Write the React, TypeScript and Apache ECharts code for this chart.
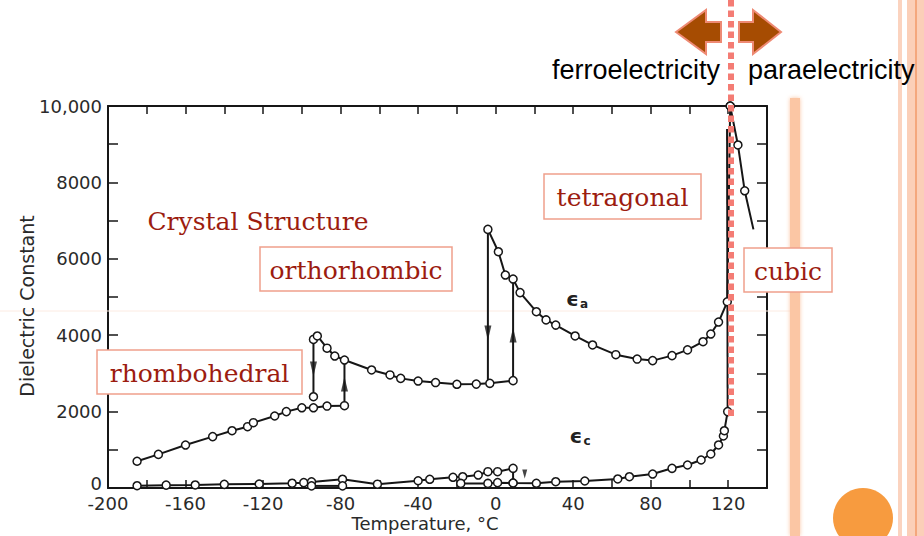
import React, { useEffect, useRef } from "react";
import * as echarts from "echarts";

// ---- data (Temperature °C, dielectric constant) ----
const rhomboLower: number[][] = [
  [-185, 700], [-174, 880], [-160, 1125], [-146, 1345], [-136, 1500], [-128, 1605],
  [-125, 1710], [-114, 1885], [-108, 2000], [-100, 2100], [-94, 2100], [-87, 2145], [-78, 2155],
];
const rhomboPoint: number[][] = [[-94, 2390]];
const orthoBranch: number[][] = [
  [-94, 3890], [-92, 3980], [-87, 3660], [-83, 3455], [-78, 3350], [-64, 3090], [-54.5, 2960],
  [-49, 2870], [-40, 2800], [-31, 2760], [-20, 2715], [-10, 2720], [-3, 2740], [9, 2810],
];
const tetraBranch: number[][] = [
  [-4, 6770], [1.4, 6185], [5, 5575], [9, 5470], [12.6, 5115], [21, 4615], [26, 4400], [31, 4265],
  [41, 3980], [50, 3745], [62, 3490], [73, 3375], [81, 3335], [91, 3465], [99, 3615], [107, 3830],
  [111, 4030], [115, 4345], [119.5, 4875], [121, 10000],
];
const cubicBranch: number[][] = [[121, 10000], [125, 8980], [128.5, 7780], [133, 6770]];
const transitions: number[][][] = [
  [[-94, 3890], [-94, 2390]],
  [[-78, 2155], [-78, 3350]],
  [[-4, 6770], [-4, 2740]],
  [[9, 2810], [9, 5470]],
];
const downArrows: number[][] = [[-94, 3115], [-4, 4060]];
const upArrows: number[][] = [[-78, 2720], [9, 4005]];
const smallArrows: number[][] = [[15, 366]];

const epsCMain: number[][] = [
  [-185, 60], [-170, 75], [-155, 80], [-140, 95], [-122, 105], [-105, 125], [-99, 140], [-95, 160],
  [-79, 230], [-61, 100], [-40, 190], [-34, 228], [-22, 280], [-17, 296], [-9, 340], [-4, 427],
  [1, 427], [9, 515], [9, 130], [21, 123], [31, 165], [46, 183], [63, 236], [69, 296], [81, 366],
  [91, 515], [99, 602], [106, 733], [111, 890], [115, 1126], [117.5, 1361], [118, 1500], [119.7, 2000],
];
const epsCRise: number[][] = [[119.7, 2000], [119.4, 9400]];
const epsCLower: number[][] = [[-95, 55], [-79, 55]];
const epsCLower2: number[][] = [[-18, 120], [-4, 120], [1, 140], [9, 130]];

const xMin = -200;
const xMax = 140;
const yMax = 10000;

const BLACK = "#161616";
const RED = "#9c1c10";
const BOX = "#f0a08c";

export default function App() {
  const ref = useRef<HTMLDivElement>(null);
  useEffect(() => {
    if (!ref.current) return;
    const chart = echarts.init(ref.current, null, { renderer: "svg" });

    const sym = {
      symbol: "circle",
      symbolSize: 8,
      showAllSymbol: true,
      itemStyle: { color: "#ffffff", borderColor: BLACK, borderWidth: 1.5 },
      lineStyle: { color: BLACK, width: 2 },
    };
    const lineSeries = (data: any[], withSymbol = true) => ({
      type: "line",
      data,
      silent: true,
      z: 3,
      ...(withSymbol ? sym : { symbol: "none", lineStyle: { color: BLACK, width: 2 } }),
    });

    const box = (text: string, x: number, y: number, w: number, h: number) => ({
      type: "group",
      z: 100,
      children: [
        { type: "rect", shape: { x, y, width: w, height: h }, style: { fill: "#ffffff", stroke: BOX, lineWidth: 1.5 }, z: 100 },
        {
          type: "text",
          z: 101,
          style: { text, x: x + w / 2, y: y + h / 2 + 1, align: "center", verticalAlign: "middle", font: "25px 'DejaVu Serif'", fill: RED },
        },
      ],
    });

    const axisLine = { show: true, onZero: false, lineStyle: { color: BLACK, width: 2 } };
    const epsRich = {
      e: { fontSize: 20, fontFamily: "DejaVu Sans", fontWeight: "bold", fill: "#222" },
      s: { fontSize: 12, fontFamily: "DejaVu Sans", fontWeight: "bold", fill: "#222", padding: [10, 0, 0, 1] },
    };

    chart.setOption({
      animation: false,
      backgroundColor: "#ffffff",
      grid: { left: 108, right: 157, top: 106, bottom: 48 },
      xAxis: [
        {
          type: "value", min: xMin, max: xMax, interval: 20,
          axisLine,
          axisTick: { show: true, inside: true, length: 8, lineStyle: { color: BLACK, width: 1.5 } },
          axisLabel: {
            margin: 6, fontSize: 18, color: "#2a2a2a", fontFamily: "DejaVu Sans",
            formatter: (v: number) => (v % 40 === 0 ? String(v) : ""),
          },
          splitLine: { show: false },
        },
        {
          type: "value", position: "top", min: xMin, max: xMax, interval: 20,
          axisLine,
          axisTick: { show: true, inside: true, length: 8, lineStyle: { color: BLACK, width: 1.5 } },
          axisLabel: { show: false },
          splitLine: { show: false },
        },
      ],
      yAxis: [
        {
          type: "value", min: 0, max: yMax, interval: 1000,
          axisLine,
          axisTick: { show: true, inside: true, length: 10, lineStyle: { color: BLACK, width: 1.5 } },
          axisLabel: {
            margin: 6, fontSize: 18, color: "#2a2a2a", fontFamily: "DejaVu Sans",
            formatter: (v: number) =>
              v === 0 ? "{z|0}" : v % 2000 === 0 ? (v === 10000 ? "10,000" : String(v)) : "",
            rich: { z: { fontSize: 18, fontFamily: "DejaVu Sans", color: "#2a2a2a", padding: [0, 0, 9, 0] } },
          },
          splitLine: { show: false },
        },
        {
          type: "value", position: "right", min: 0, max: yMax, interval: 1000,
          axisLine,
          axisTick: { show: true, inside: true, length: 10, lineStyle: { color: BLACK, width: 1.5 } },
          axisLabel: { show: false },
          splitLine: { show: false },
        },
      ],
      series: [
        lineSeries(rhomboLower),
        lineSeries(rhomboPoint),
        lineSeries(orthoBranch),
        lineSeries(tetraBranch),
        lineSeries(cubicBranch.map((p, i) => (i === cubicBranch.length - 1 ? { value: p, symbol: "none" } : p))),
        ...transitions.map((t) => lineSeries(t, false)),
        lineSeries(epsCMain),
        lineSeries(epsCRise, false),
        lineSeries(epsCLower),
        lineSeries(epsCLower2),
        {
          type: "scatter", data: downArrows, symbol: "triangle", symbolSize: [7, 15], symbolRotate: 180,
          itemStyle: { color: BLACK }, z: 4, silent: true,
        },
        {
          type: "scatter", data: upArrows, symbol: "triangle", symbolSize: [7, 15],
          itemStyle: { color: BLACK }, z: 4, silent: true,
        },
        {
          type: "scatter", data: smallArrows, symbol: "triangle", symbolSize: [5, 9], symbolRotate: 180,
          itemStyle: { color: BLACK }, z: 4, silent: true,
        },
      ],
      graphic: [
        { type: "line", silent: true, z: 1, shape: { x1: 0, y1: 311, x2: 790, y2: 311 }, style: { stroke: "#fcebe2", lineWidth: 1 } },
        { type: "rect", silent: true, z: 90, shape: { x: 790, y: 98, width: 10, height: 438 }, style: { fill: "#fbc6a4", shadowBlur: 4, shadowColor: "#fbc6a4" } },
        { type: "rect", silent: true, z: 90, shape: { x: 898, y: 0, width: 4, height: 536 }, style: { fill: "#fbd3bf" } },
        { type: "rect", silent: true, z: 90, shape: { x: 907, y: 0, width: 17, height: 536 }, style: { fill: "#fbcfb8" } },
        { type: "line", silent: true, z: 91, shape: { x1: 916, y1: 0, x2: 916, y2: 536 }, style: { stroke: "#f29a6a", lineWidth: 1.5 } },
        { type: "circle", silent: true, z: 90, shape: { cx: 863, cy: 518, r: 30 }, style: { fill: "#f79b3f" } },
        { type: "line", silent: true, z: 110, shape: { x1: 731, y1: 0, x2: 731, y2: 418 }, style: { stroke: "#f47c74", lineWidth: 6, lineDash: [6.5, 4] } },
        {
          type: "polygon", silent: true, z: 110,
          shape: { points: [[676, 32], [706, 10], [706, 22], [721, 22], [721, 42], [706, 42], [706, 54]] },
          style: { fill: "#a64c02", stroke: "#ee8a74", lineWidth: 2 },
        },
        {
          type: "polygon", silent: true, z: 110,
          shape: { points: [[739, 22], [753, 22], [753, 10], [781, 32], [753, 54], [753, 42], [739, 42]] },
          style: { fill: "#a64c02", stroke: "#ee8a74", lineWidth: 2 },
        },
        { type: "text", z: 110, style: { text: "ferroelectricity", x: 720, y: 70, align: "right", verticalAlign: "middle", font: "27px 'Liberation Sans'", fill: "#000000" } },
        { type: "text", z: 110, style: { text: "paraelectricity", x: 748, y: 70, align: "left", verticalAlign: "middle", font: "27px 'Liberation Sans'", fill: "#000000" } },
        { type: "text", z: 100, style: { text: "Crystal Structure", x: 258, y: 221, align: "center", verticalAlign: "middle", font: "25px 'DejaVu Serif'", fill: RED } },
        box("orthorhombic", 260, 247, 192, 44),
        box("rhombohedral", 97, 350, 205, 44),
        box("tetragonal", 544, 174, 157, 45),
        box("cubic", 744, 248, 88, 44),
        {
          type: "text", z: 100,
          style: { text: "{e|ϵ}{s|a}", x: 577, y: 299, align: "center", verticalAlign: "middle", rich: epsRich },
        },
        {
          type: "text", z: 100,
          style: { text: "{e|ϵ}{s|c}", x: 580, y: 436, align: "center", verticalAlign: "middle", rich: epsRich },
        },
        { type: "text", z: 100, style: { text: "Temperature, °C", x: 425, y: 523, align: "center", verticalAlign: "middle", font: "18px 'DejaVu Sans'", fill: "#2a2a2a" } },
        {
          type: "text", z: 100, x: 27, y: 306, rotation: Math.PI / 2,
          style: { text: "Dielectric Constant", x: 0, y: 0, align: "center", verticalAlign: "middle", font: "19px 'DejaVu Sans'", fill: "#2a2a2a" },
        },
      ],
    });
    return () => chart.dispose();
  }, []);
  return <div ref={ref} style={{ position: "absolute", left: 0, top: 0, width: 924, height: 536 }} />;
}
